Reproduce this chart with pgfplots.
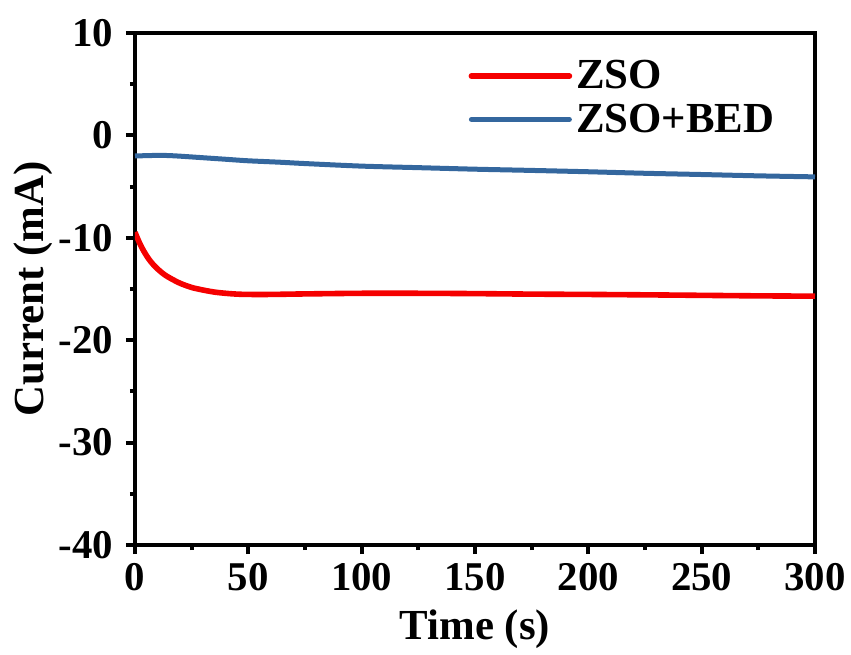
\documentclass[border=0pt]{standalone}
\usepackage{pgfplots}
\pgfplotsset{compat=1.18}
\usepackage{fontspec}
\setmainfont{Liberation Serif}
\definecolor{zred}{RGB}{245,0,0}
\definecolor{zblue}{RGB}{52,103,158}
\begin{document}
\begin{tikzpicture}
\begin{axis}[
  scale only axis,
  width=340bp, height=256bp,
  xmin=0, xmax=300, ymin=-40, ymax=10,
  xtick={0,50,...,300}, ytick={-40,-30,...,10},
  minor x tick num=1, minor y tick num=1,
  tick pos=left, tick align=outside,
  major tick length=4.5bp, minor tick length=2.5bp,
  every tick/.style={black, line width=2pt},
  axis line style={line width=2.2bp},
  /pgf/number format/assume math mode=true,
  ticklabel style={font=\fontsize{20.5}{22}\selectfont\bfseries},
  xticklabel style={yshift=-1bp},
  yticklabel style={xshift=-3bp},
  xlabel={Time (s)}, ylabel={Current (mA)},
  label style={font=\fontsize{21.5}{24}\selectfont\bfseries},
  xlabel style={yshift=-2.5bp},
  ylabel style={yshift=-4bp},
  legend style={draw=none, fill=none, at={(0.49,0.955)}, anchor=north west,
    inner sep=0pt, font=\fontsize{21.5}{24}\selectfont\bfseries, row sep=2pt},
  legend cell align=left,
  legend image post style={line cap=round},
  legend image code/.code={\draw[#1] (0bp,0bp) -- (49bp,0bp);},
]
\addplot[zred, line width=2.8bp, smooth] coordinates {
(0,-9.45) (1,-10.0) (2,-10.5) (3,-10.95) (4,-11.35) (6,-12.05) (8,-12.6) (10,-13.05) (13,-13.6) (16,-14.0) (20,-14.45) (25,-14.85) (30,-15.1) (35,-15.3) (40,-15.42) (45,-15.5) (50,-15.53) (60,-15.53) (75,-15.48) (100,-15.42) (125,-15.42) (150,-15.45) (175,-15.5) (200,-15.53) (225,-15.57) (250,-15.62) (275,-15.67) (300,-15.7)
};
\addlegendentry{ZSO}
\addplot[zblue, line width=2.5bp, smooth] coordinates {
(0,-2.0) (5,-1.98) (10,-1.95) (15,-1.97) (20,-2.03) (30,-2.18) (40,-2.33) (50,-2.48) (64,-2.62) (75,-2.75) (100,-3.0) (125,-3.15) (150,-3.3) (175,-3.42) (200,-3.55) (225,-3.7) (250,-3.82) (275,-3.95) (300,-4.05)
};
\addlegendentry{ZSO+BED}
\end{axis}
\pgfresetboundingbox
\path ([shift={(-67.5bp,-55bp)}]current axis.south west) rectangle ([shift={(18bp,16.5bp)}]current axis.north east);
\end{tikzpicture}
\end{document}
